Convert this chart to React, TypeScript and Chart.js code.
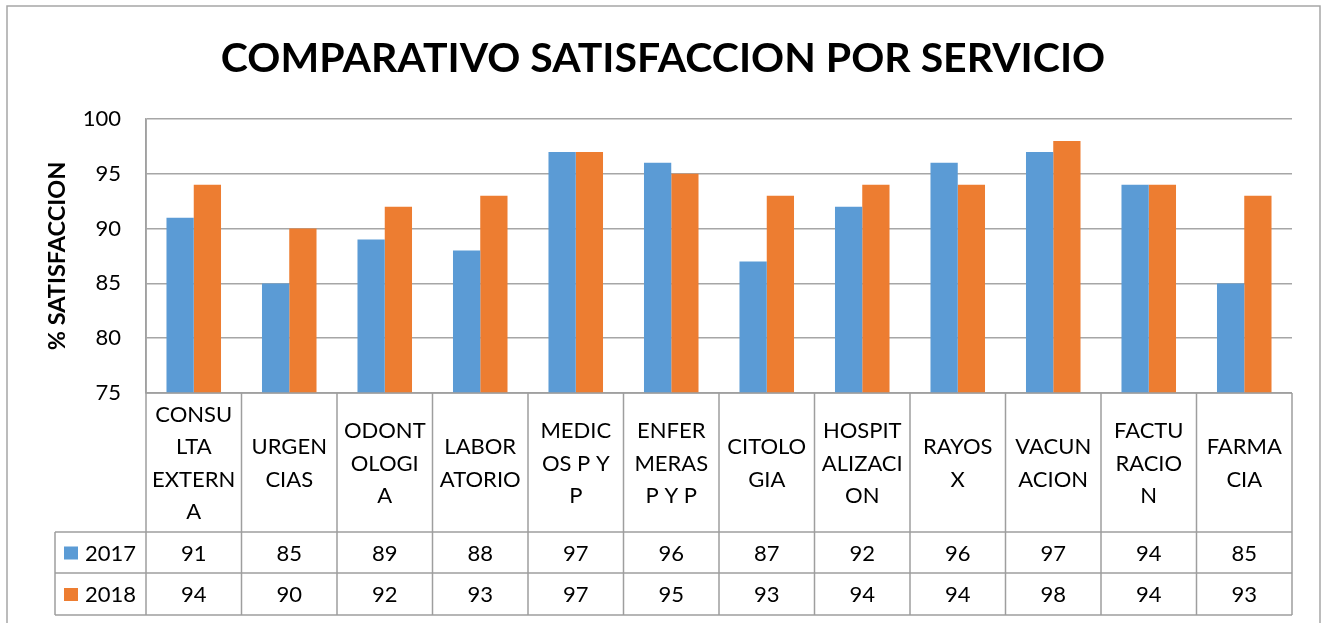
import React, { useEffect, useRef } from "react";
import { Chart, registerables } from "chart.js";

Chart.register(...registerables);

const TITLE = "COMPARATIVO SATISFACCION POR SERVICIO";
const Y_TITLE = "% SATISFACCION";
const CATEGORY_LINES: string[][] = [
  ["CONSU", "LTA", "EXTERN", "A"],
  ["URGEN", "CIAS"],
  ["ODONT", "OLOGI", "A"],
  ["LABOR", "ATORIO"],
  ["MEDIC", "OS P Y", "P"],
  ["ENFER", "MERAS", "P Y P"],
  ["CITOLO", "GIA"],
  ["HOSPIT", "ALIZACI", "ON"],
  ["RAYOS", "X"],
  ["VACUN", "ACION"],
  ["FACTU", "RACIO", "N"],
  ["FARMA", "CIA"],
];
const SERIES_NAMES = ["2017", "2018"];
const VALUES_2017 = [91, 85, 89, 88, 97, 96, 87, 92, 96, 97, 94, 85];
const VALUES_2018 = [94, 90, 92, 93, 97, 95, 93, 94, 94, 98, 94, 93];
const COLORS = ["#5B9BD5", "#ED7D31"];
const Y_MIN = 75;
const Y_MAX = 100;
const Y_STEP = 5;

const FONT = "Lato, 'Noto Sans', sans-serif";
const W = 1329;
const H = 623;

const tablePlugin = {
  id: "excelTable",
  afterDraw(chart: any) {
    const ctx: CanvasRenderingContext2D = chart.ctx;
    const x = chart.scales.x;
    const area = chart.chartArea;
    const n = CATEGORY_LINES.length;
    const catTop = area.bottom;
    const catBottom = 532;
    const row1Bottom = 573;
    const row2Bottom = 615;
    const legendLeft = 55;
    ctx.save();

    // outer border
    ctx.strokeStyle = "#a6a6a6";
    ctx.lineWidth = 1.5;
    ctx.strokeRect(7, 6, 1313, 630);

    // title
    ctx.fillStyle = "#000";
    ctx.font = `bold 41px ${FONT}`;
    ctx.textAlign = "center";
    ctx.textBaseline = "middle";
    ctx.fillText(TITLE, 663, 59);

    // y title
    ctx.save();
    ctx.translate(57, (area.top + area.bottom) / 2);
    ctx.rotate(-Math.PI / 2);
    ctx.font = `bold 23.5px ${FONT}`;
    ctx.fillText(Y_TITLE, 0, 0);
    ctx.restore();

    // table lines
    ctx.strokeStyle = "#9e9e9e";
    ctx.lineWidth = 1.5;
    ctx.beginPath();
    ctx.moveTo(area.left, catTop);
    ctx.lineTo(area.right, catTop);
    [catBottom, row1Bottom, row2Bottom].forEach((yy) => {
      ctx.moveTo(legendLeft, yy);
      ctx.lineTo(area.right, yy);
    });
    ctx.moveTo(legendLeft, catBottom);
    ctx.lineTo(legendLeft, row2Bottom);
    for (let i = 0; i <= n; i++) {
      const bx = i === 0 ? area.left : i === n ? area.right : (x.getPixelForValue(i - 1) + x.getPixelForValue(i)) / 2;
      ctx.moveTo(bx, i === 0 ? area.top : catTop);
      ctx.lineTo(bx, row2Bottom);
    }
    ctx.stroke();

    // category labels
    ctx.fillStyle = "#000";
    ctx.font = `22px ${FONT}`;
    const lh = 32.5;
    const catMid = (catTop + catBottom) / 2;
    CATEGORY_LINES.forEach((lines, i) => {
      const cx = x.getPixelForValue(i);
      const start = catMid - ((lines.length - 1) * lh) / 2;
      lines.forEach((ln, j) => ctx.fillText(ln, cx, start + j * lh + 1));
    });

    // data rows
    const rows = [VALUES_2017, VALUES_2018];
    const rowMids = [(catBottom + row1Bottom) / 2, (row1Bottom + row2Bottom) / 2];
    rows.forEach((vals, r) => {
      const ym = rowMids[r];
      vals.forEach((v, i) => ctx.fillText(String(v), x.getPixelForValue(i), ym + 1));
      ctx.fillStyle = COLORS[r];
      ctx.fillRect(64, ym - 6, 14, 13);
      ctx.fillStyle = "#000";
      ctx.textAlign = "left";
      ctx.fillText(SERIES_NAMES[r], 85, ym + 1);
      ctx.textAlign = "center";
    });
    ctx.restore();
  },
};

export default function App() {
  const ref = useRef<HTMLCanvasElement | null>(null);
  useEffect(() => {
    if (!ref.current) return;
    const chart = new Chart(ref.current, {
      type: "bar",
      data: {
        labels: CATEGORY_LINES.map((l) => l.join("")),
        datasets: [
          { label: SERIES_NAMES[0], data: VALUES_2017, backgroundColor: COLORS[0], categoryPercentage: 0.571, barPercentage: 1 },
          { label: SERIES_NAMES[1], data: VALUES_2018, backgroundColor: COLORS[1], categoryPercentage: 0.571, barPercentage: 1 },
        ],
      },
      options: {
        responsive: false,
        animation: false,
        layout: { padding: { top: 119, right: 37, bottom: 230, left: 0 } },
        plugins: { legend: { display: false }, tooltip: { enabled: false }, title: { display: false } },
        scales: {
          x: {
            ticks: { display: false },
            grid: { display: false },
            border: { display: false },
            afterFit: (s: any) => { s.height = 0; },
          },
          y: {
            min: Y_MIN,
            max: Y_MAX,
            ticks: { stepSize: Y_STEP, color: "#000", font: { family: FONT, size: 22 }, padding: 25 },
            grid: { color: "#a6a6a6", lineWidth: 1.5, drawTicks: false },
            border: { display: true, color: "#a6a6a6", width: 1.5 },
            afterFit: (s: any) => { s.width = 146; },
          },
        },
      },
      plugins: [tablePlugin],
    });
    return () => chart.destroy();
  }, []);
  return (
    <div style={{ position: "fixed", left: 0, top: 0, width: W, height: H, background: "#fff" }}>
      <canvas ref={ref} width={W} height={H} style={{ width: W, height: H, display: "block" }} />
    </div>
  );
}
